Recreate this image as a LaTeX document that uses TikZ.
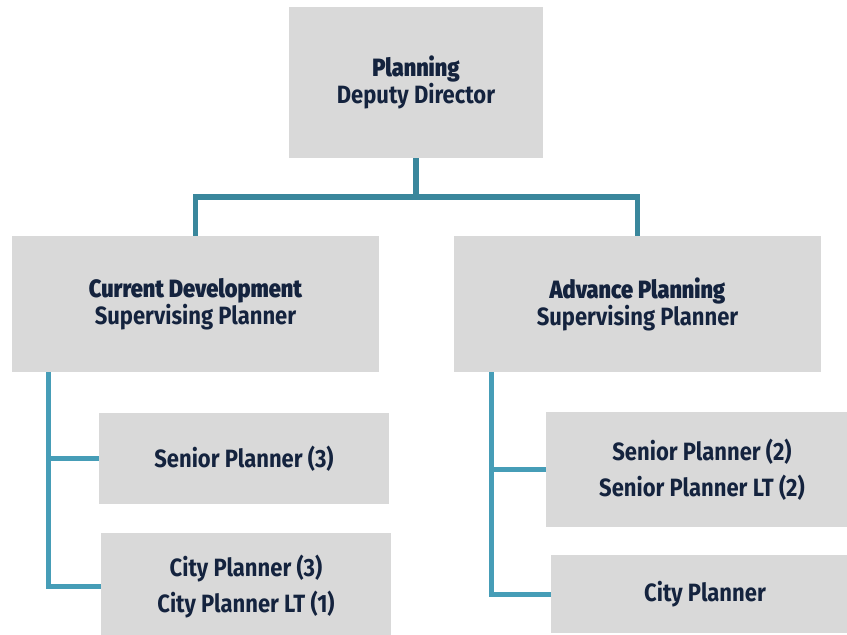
\documentclass[tikz,border=0pt]{standalone}
\usepackage{fontspec}
\setmainfont{Fira Sans}[FakeStretch=0.88]
\newfontfamily\heavyfont{Fira Sans}[FakeStretch=0.87,UprightFont=*-Bold,UprightFeatures={FakeBold=1.4}]
\definecolor{boxgray}{HTML}{D9D9D9}
\definecolor{navy}{HTML}{14233E}
\definecolor{tealdark}{HTML}{3A879C}
\definecolor{teallight}{HTML}{469DB7}
\begin{document}
\begin{tikzpicture}[x=1pt,y=-1pt,
  orgbox/.style={fill=boxgray,draw=none,inner sep=0pt,align=center,text=navy,
    font=\fontsize{25}{25.5}\selectfont\bfseries},
  lowbox/.style={orgbox,font=\fontsize{25}{36}\selectfont\bfseries},
  mainlink/.style={draw=tealdark,line width=5.5pt,line join=miter},
  sublink/.style={draw=teallight,line width=5pt,line join=miter}]
\useasboundingbox (0,0) rectangle (847,635);

% director
\node[orgbox,minimum width=254pt,minimum height=151pt] (top) at (416,82.5)
  {{\heavyfont Planning}\\Deputy Director};

% supervising planners
\node[orgbox,minimum width=367pt,minimum height=136pt] (cd) at (195.5,304)
  {{\heavyfont Current Development}\\Supervising Planner};
\node[orgbox,minimum width=367pt,minimum height=136pt] (ap) at (637.5,304)
  {{\heavyfont Advance Planning}\\Supervising Planner};

% current development staff
\node[lowbox,minimum width=290pt,minimum height=91pt] (sp3) at (244,458.5)
  {Senior Planner (3)};
\node[lowbox,minimum width=290pt,minimum height=107pt] (cp3) at (246,586.5)
  {City Planner (3)\\City Planner LT (1)};

% advance planning staff
\node[lowbox,minimum width=312pt,minimum height=115pt] (sp2) at (702,469.5)
  {Senior Planner (2)\\Senior Planner LT (2)};
\node[lowbox,minimum width=308pt,minimum height=78pt] (cpr) at (705,594)
  {City Planner};

% connectors
\coordinate (hub) at ([yshift=-39pt]top.south);
\draw[mainlink] (top.south) -- (hub);
\draw[mainlink] (cd.north) |- (hub) -| (ap.north);

\coordinate (ls) at ([xshift=36.5pt]cd.south west);
\draw[sublink] (ls) |- (cp3.west);
\draw[sublink] (ls |- sp3.west) -- (sp3.west);

\coordinate (rs) at ([xshift=37.5pt]ap.south west);
\draw[sublink] (rs) |- (cpr.west);
\draw[sublink] (rs |- sp2.west) -- (sp2.west);
\end{tikzpicture}
\end{document}
